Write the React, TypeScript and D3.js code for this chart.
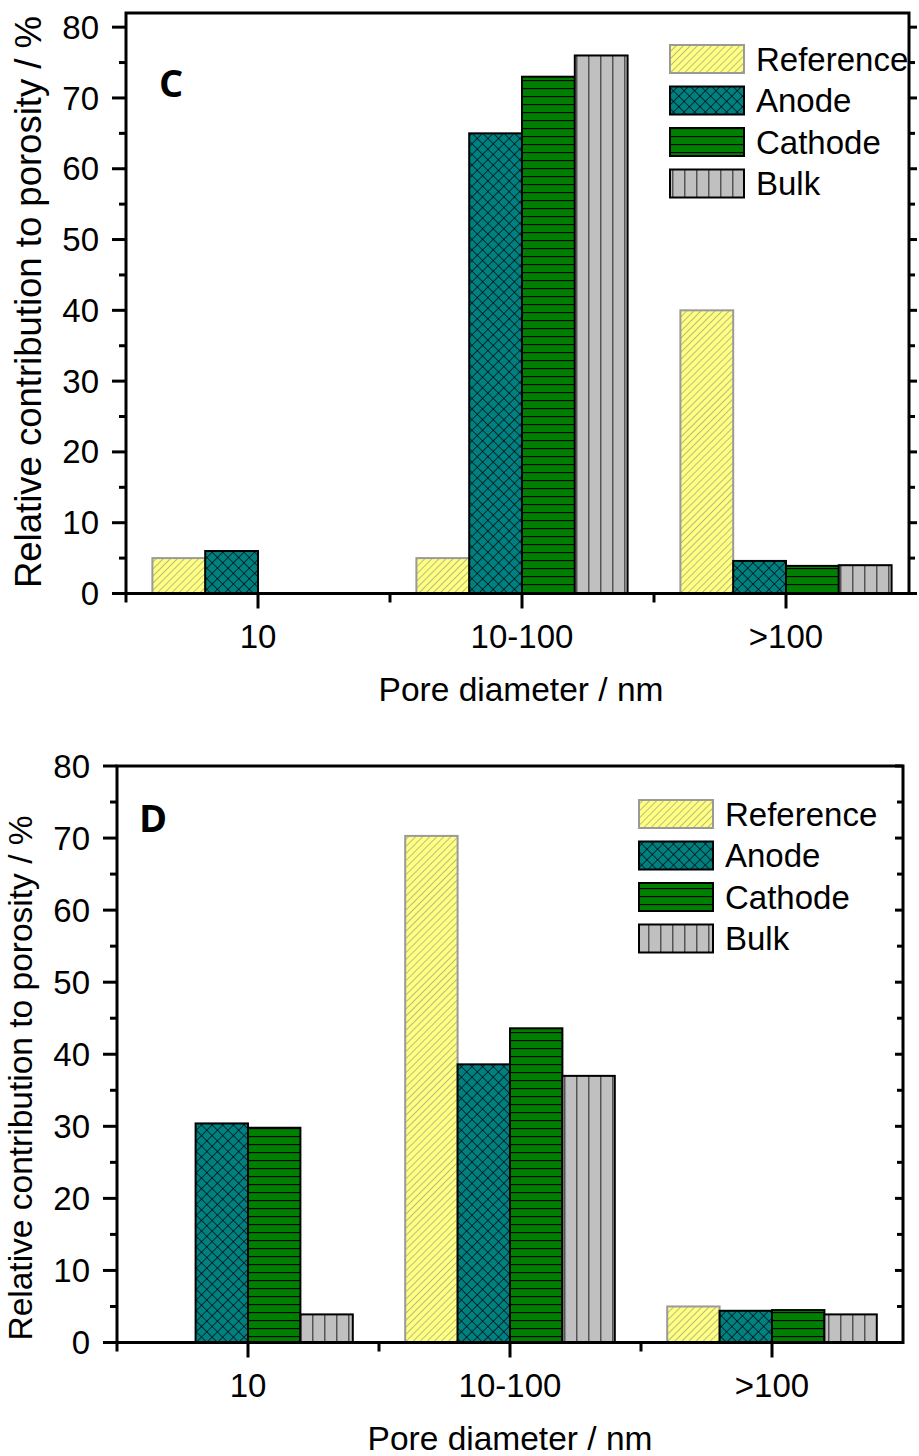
import React, { useEffect, useRef } from "react";
import * as d3 from "d3";

const categories = ["10", "10-100", ">100"];
const seriesNames = ["Reference", "Anode", "Cathode", "Bulk"];

// panel C
const refC = [5, 5, 40];
const anodeC = [6, 65, 4.6];
const cathodeC = [0, 73, 3.9];
const bulkC = [0, 76, 4];

// panel D
const refD = [0, 70.3, 5];
const anodeD = [30.4, 38.6, 4.4];
const cathodeD = [29.8, 43.6, 4.5];
const bulkD = [3.9, 37, 3.9];

const yTicks = [0, 10, 20, 30, 40, 50, 60, 70, 80];

const FONT = "'Liberation Sans', Arial, sans-serif";

const styles = [
  { fill: "url(#pRef)", stroke: "#9a9a9a" },
  { fill: "url(#pAnode)", stroke: "#000" },
  { fill: "url(#pCathode)", stroke: "#000" },
  { fill: "url(#pBulk)", stroke: "#000" },
];

function addPatterns(defs) {
  const ref = defs
    .append("pattern")
    .attr("id", "pRef")
    .attr("patternUnits", "userSpaceOnUse")
    .attr("width", 5)
    .attr("height", 5)
    .attr("patternTransform", "rotate(45)");
  ref.append("rect").attr("width", 5).attr("height", 5).attr("fill", "#ffff80");
  ref.append("line").attr("x1", 0).attr("y1", 0).attr("x2", 0).attr("y2", 5)
    .attr("stroke", "#8c8c8c").attr("stroke-width", 1.2);

  const an = defs
    .append("pattern")
    .attr("id", "pAnode")
    .attr("patternUnits", "userSpaceOnUse")
    .attr("width", 7.5)
    .attr("height", 7.5)
    .attr("patternTransform", "rotate(45)");
  an.append("rect").attr("width", 7.5).attr("height", 7.5).attr("fill", "#008080");
  an.append("line").attr("x1", 0).attr("y1", 0).attr("x2", 0).attr("y2", 7.5)
    .attr("stroke", "#000").attr("stroke-width", 1.3);
  an.append("line").attr("x1", 0).attr("y1", 0).attr("x2", 7.5).attr("y2", 0)
    .attr("stroke", "#000").attr("stroke-width", 1.3);

  const ca = defs
    .append("pattern")
    .attr("id", "pCathode")
    .attr("patternUnits", "userSpaceOnUse")
    .attr("width", 8)
    .attr("height", 8);
  ca.append("rect").attr("width", 8).attr("height", 8).attr("fill", "#008000");
  ca.append("line").attr("x1", 0).attr("y1", 0.5).attr("x2", 8).attr("y2", 0.5)
    .attr("stroke", "#000").attr("stroke-width", 1.3);

  const bu = defs
    .append("pattern")
    .attr("id", "pBulk")
    .attr("patternUnits", "userSpaceOnUse")
    .attr("width", 12)
    .attr("height", 12);
  bu.append("rect").attr("width", 12).attr("height", 12).attr("fill", "#c0c0c0");
  bu.append("line").attr("x1", 0.5).attr("y1", 0).attr("x2", 0.5).attr("y2", 12)
    .attr("stroke", "#555").attr("stroke-width", 2);
}

function drawPanel(svg, p) {
  const g = svg.append("g");
  const y = d3.scaleLinear().domain([0, p.yMax]).range([p.bottom, p.top]);
  const x = d3
    .scaleBand()
    .domain(categories)
    .range([p.left, p.left + 3 * p.step])
    .paddingInner(0)
    .paddingOuter(0);
  const xs = d3
    .scaleBand()
    .domain(seriesNames)
    .range([0, x.bandwidth()])
    .paddingInner(0)
    .paddingOuter(0.5);

  // bars
  p.values.forEach((vals, si) => {
    g.append("g")
      .selectAll("rect")
      .data(vals.map((v, i) => ({ v, c: categories[i] })).filter((d) => d.v > 0))
      .join("rect")
      .attr("x", (d) => x(d.c) + xs(seriesNames[si]))
      .attr("y", (d) => y(d.v))
      .attr("width", xs.bandwidth())
      .attr("height", (d) => y(0) - y(d.v))
      .attr("fill", styles[si].fill)
      .attr("stroke", styles[si].stroke)
      .attr("stroke-width", 2);
  });

  const ax = g.append("g").attr("stroke", "#000").attr("stroke-width", 3);
  // frame
  ax.append("rect")
    .attr("x", p.left)
    .attr("y", p.top)
    .attr("width", p.right - p.left)
    .attr("height", p.bottom - p.top)
    .attr("fill", "none");

  // y ticks
  const minor = d3.range(5, p.yMax, 10);
  yTicks.forEach((t) => {
    ax.append("line").attr("x1", p.left - 14).attr("x2", p.left)
      .attr("y1", y(t)).attr("y2", y(t));
    ax.append("line").attr("x1", p.right).attr("x2", p.right + p.rightDir * 8)
      .attr("y1", y(t)).attr("y2", y(t));
  });
  minor.forEach((t) => {
    ax.append("line").attr("x1", p.left - 7).attr("x2", p.left)
      .attr("y1", y(t)).attr("y2", y(t));
    ax.append("line").attr("x1", p.right).attr("x2", p.right + p.rightDir * 6)
      .attr("y1", y(t)).attr("y2", y(t));
  });
  g.append("g")
    .selectAll("text")
    .data(yTicks)
    .join("text")
    .attr("x", p.left - 27)
    .attr("y", (d) => y(d))
    .attr("dy", "0.35em")
    .attr("text-anchor", "end")
    .attr("font-family", FONT)
    .attr("font-size", 33)
    .text((d) => d);

  // x ticks
  categories.forEach((c) => {
    const cx = x(c) + x.bandwidth() / 2;
    ax.append("line").attr("x1", cx).attr("x2", cx)
      .attr("y1", p.bottom).attr("y2", p.bottom + 15);
    const bx = x(c);
    ax.append("line").attr("x1", bx).attr("x2", bx)
      .attr("y1", p.bottom).attr("y2", p.bottom + 9);
  });
  g.append("g")
    .selectAll("text")
    .data(categories)
    .join("text")
    .attr("x", (d) => x(d) + x.bandwidth() / 2)
    .attr("y", p.bottom + 54)
    .attr("text-anchor", "middle")
    .attr("font-family", FONT)
    .attr("font-size", 33)
    .text((d) => d);

  // axis titles
  g.append("text")
    .attr("x", p.xTitleX)
    .attr("y", p.bottom + 107)
    .attr("text-anchor", "middle")
    .attr("font-family", FONT)
    .attr("font-size", 33.5)
    .text("Pore diameter / nm");
  g.append("text")
    .attr("transform", `translate(${p.yTitleX},${p.yTitleY}) rotate(-90)`)
    .attr("text-anchor", "middle")
    .attr("dy", "0.35em")
    .attr("font-family", FONT)
    .attr("font-size", p.yTitleSize)
    .text("Relative contribution to porosity / %");

  // panel letter
  g.append("text")
    .attr("x", p.letterX)
    .attr("y", p.letterY)
    .attr("font-family", "'Open Sans', 'Noto Sans', sans-serif")
    .attr("font-weight", "bold")
    .attr("font-size", 38)
    .text(p.letter);

  // legend
  const lg = g.append("g");
  seriesNames.forEach((s, i) => {
    const ly = p.legendY + i * 41.5;
    lg.append("rect")
      .attr("x", p.legendX)
      .attr("y", ly)
      .attr("width", 74)
      .attr("height", 28)
      .attr("fill", styles[i].fill)
      .attr("stroke", styles[i].stroke)
      .attr("stroke-width", 2);
    lg.append("text")
      .attr("x", p.legendX + 86)
      .attr("y", ly + 14)
      .attr("dy", "0.35em")
      .attr("font-family", FONT)
      .attr("font-size", 33)
      .text(s);
  });
}

export default function App() {
  const ref = useRef(null);

  useEffect(() => {
    const svg = d3.select(ref.current);
    svg.selectAll("*").remove();
    addPatterns(svg.append("defs"));

    drawPanel(svg, {
      letter: "C",
      values: [refC, anodeC, cathodeC, bulkC],
      yMax: 82,
      top: 13,
      bottom: 593.5,
      left: 126,
      right: 909,
      step: 264,
      rightDir: 1,
      xTitleX: 521,
      yTitleX: 28,
      yTitleY: 302,
      yTitleSize: 36.5,
      letterX: 159,
      letterY: 97,
      legendX: 670,
      legendY: 45,
    });

    drawPanel(svg, {
      letter: "D",
      values: [refD, anodeD, cathodeD, bulkD],
      yMax: 80,
      top: 766,
      bottom: 1342.5,
      left: 117,
      right: 903,
      step: 262,
      rightDir: -1,
      xTitleX: 510,
      yTitleX: 20,
      yTitleY: 1078,
      yTitleSize: 33.5,
      letterX: 139,
      letterY: 832,
      legendX: 639,
      legendY: 800,
    });
  }, []);

  return (
    <svg
      ref={ref}
      width={919}
      height={1456}
      style={{ position: "absolute", left: 0, top: 0, background: "#fff" }}
    ></svg>
  );
}
